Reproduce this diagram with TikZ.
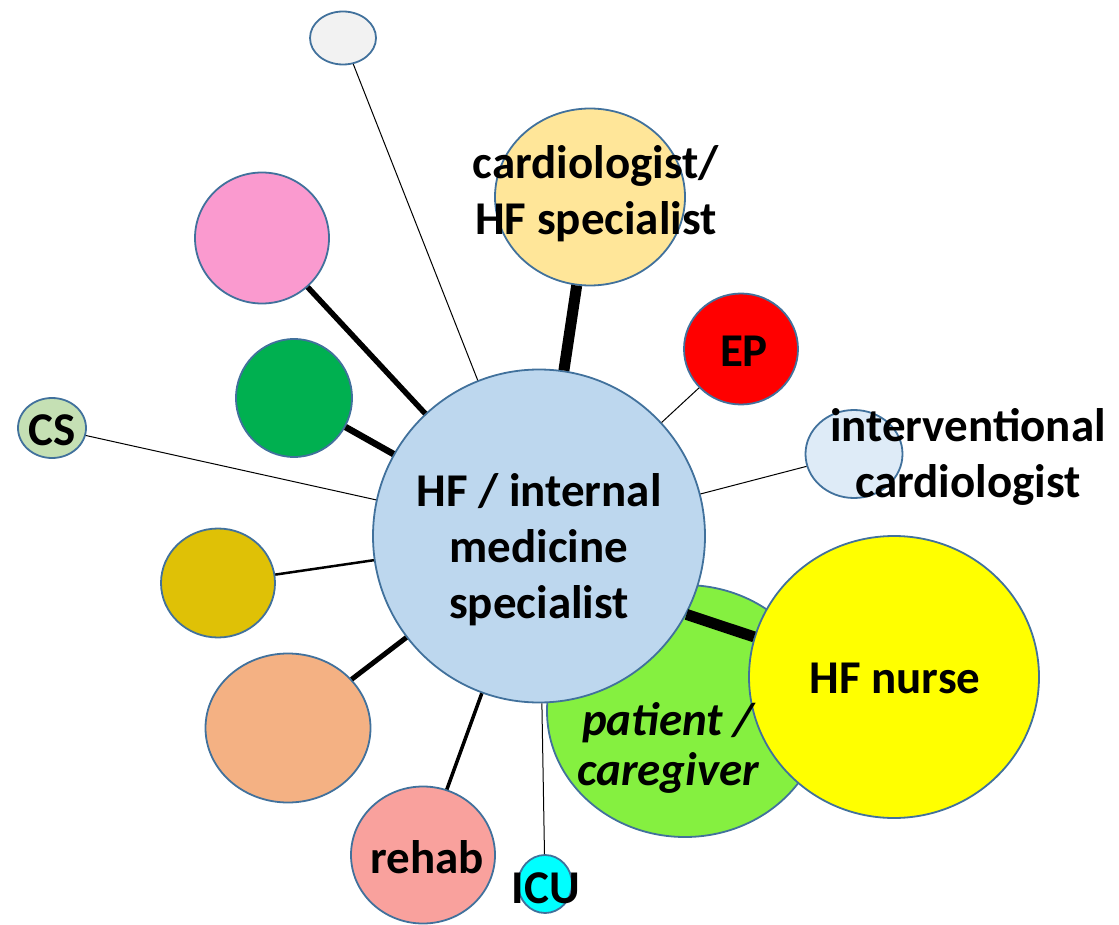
\documentclass[tikz,border=0pt]{standalone}
\usepackage{fontspec}
\setmainfont{Carlito}
\usepackage{tikz}
\usetikzlibrary{shapes.geometric}

\definecolor{rim}{HTML}{41719C}
\definecolor{hubblue}{HTML}{BDD7EE}
\definecolor{cardio}{HTML}{FFE699}
\definecolor{pinkish}{HTML}{FA9ACF}
\definecolor{dkgreen}{HTML}{00B050}
\definecolor{csgreen}{HTML}{C5E0B4}
\definecolor{lightgrey}{HTML}{F2F2F2}
\definecolor{intblue}{HTML}{DEEBF7}
\definecolor{olive}{HTML}{DFC106}
\definecolor{peach}{HTML}{F4B183}
\definecolor{rehab}{HTML}{F9A19D}
\definecolor{patient}{HTML}{85F040}
\definecolor{nurseyellow}{HTML}{FFFF00}
\definecolor{icucyan}{HTML}{00FFFF}
\definecolor{epred}{HTML}{FF0000}

\begin{document}
\begin{tikzpicture}[x=1pt,y=-1pt,
  bubble/.style={ellipse, draw=rim, line width=1.8pt, inner sep=0pt},
  tag/.style={font=\bfseries\fontsize{47}{56}\selectfont, align=center, inner sep=0pt}]
\useasboundingbox (0,0) rectangle (1119,925);

% patient sits behind the hub and the nurse
\node [bubble, fill=patient, minimum width=276pt, minimum height=252pt] (pat) at (685,711) {};
\node [bubble, fill=hubblue, minimum width=332pt, minimum height=333pt] (hub) at (539,536) {};
\node [bubble, fill=nurseyellow, minimum width=290pt, minimum height=282pt] (nurse) at (894,677) {};

\node [bubble, fill=cardio, minimum width=190pt, minimum height=177pt] (card) at (590,197) {};
\node [bubble, fill=lightgrey, minimum width=66pt, minimum height=53pt] (grey) at (343,38) {};
\node [bubble, fill=pinkish, minimum width=134pt, minimum height=131pt] (pink) at (262,238) {};
\node [bubble, fill=dkgreen, minimum width=116pt, minimum height=118pt] (green) at (294,398) {};
\node [bubble, fill=csgreen, minimum width=68pt, minimum height=60pt] (cs) at (52,428) {};
\node [bubble, fill=epred, minimum width=114pt, minimum height=111pt] (ep) at (741,349) {};
\node [bubble, fill=intblue, minimum width=97pt, minimum height=88pt] (int) at (854,454) {};
\node [bubble, fill=olive, minimum width=114pt, minimum height=109pt] (gold) at (218,583) {};
\node [bubble, fill=peach, minimum width=165pt, minimum height=149pt] (peach) at (288,728) {};
\node [bubble, fill=rehab, minimum width=144pt, minimum height=137pt] (reh) at (423,855) {};
\node [bubble, fill=icucyan, minimum width=54pt, minimum height=58pt] (icu) at (545,884) {};

% spokes, thickness by how close the tie is
\draw [line width=11pt] (hub) -- (card);
\draw [line width=11pt] (hub.-28) -- (nurse.164);
\draw [line width=6.5pt] (hub) -- (green);
\draw [line width=5.5pt] (hub) -- (pink);
\draw [line width=5pt] (hub) -- (peach);
\draw [line width=3.5pt] (hub) -- (reh);
\draw [line width=2.5pt] (hub) -- (gold);
\draw [line width=1pt] (hub) -- (grey);
\draw [line width=1pt] (hub) -- (cs);
\draw [line width=1pt] (hub) -- (ep);
\draw [line width=1pt] (hub) -- (int);
\draw [line width=1pt] (hub) -- (icu);

% labels
\node [tag] (hubT) at (539,550) {HF / internal\\medicine\\specialist};
\node [tag] (cardT) at (596,194) {cardiologist/\\HF specialist};
\node [tag] (epT) at (744,351) {EP};
\node [tag] (csT) at (52,430) {CS};
\node [tag] (intT) at (968,457) {interventional\\cardiologist};
\node [tag] (nurseT) at (895,678) {HF nurse};
\node [tag, font=\bfseries\itshape\fontsize{47}{50}\selectfont] (patT) at (668,748) {patient /\\caregiver};
\node [tag] (rehT) at (427,857) {rehab};
\node [tag] (icuT) at (546,888) {ICU};

\end{tikzpicture}
\end{document}
